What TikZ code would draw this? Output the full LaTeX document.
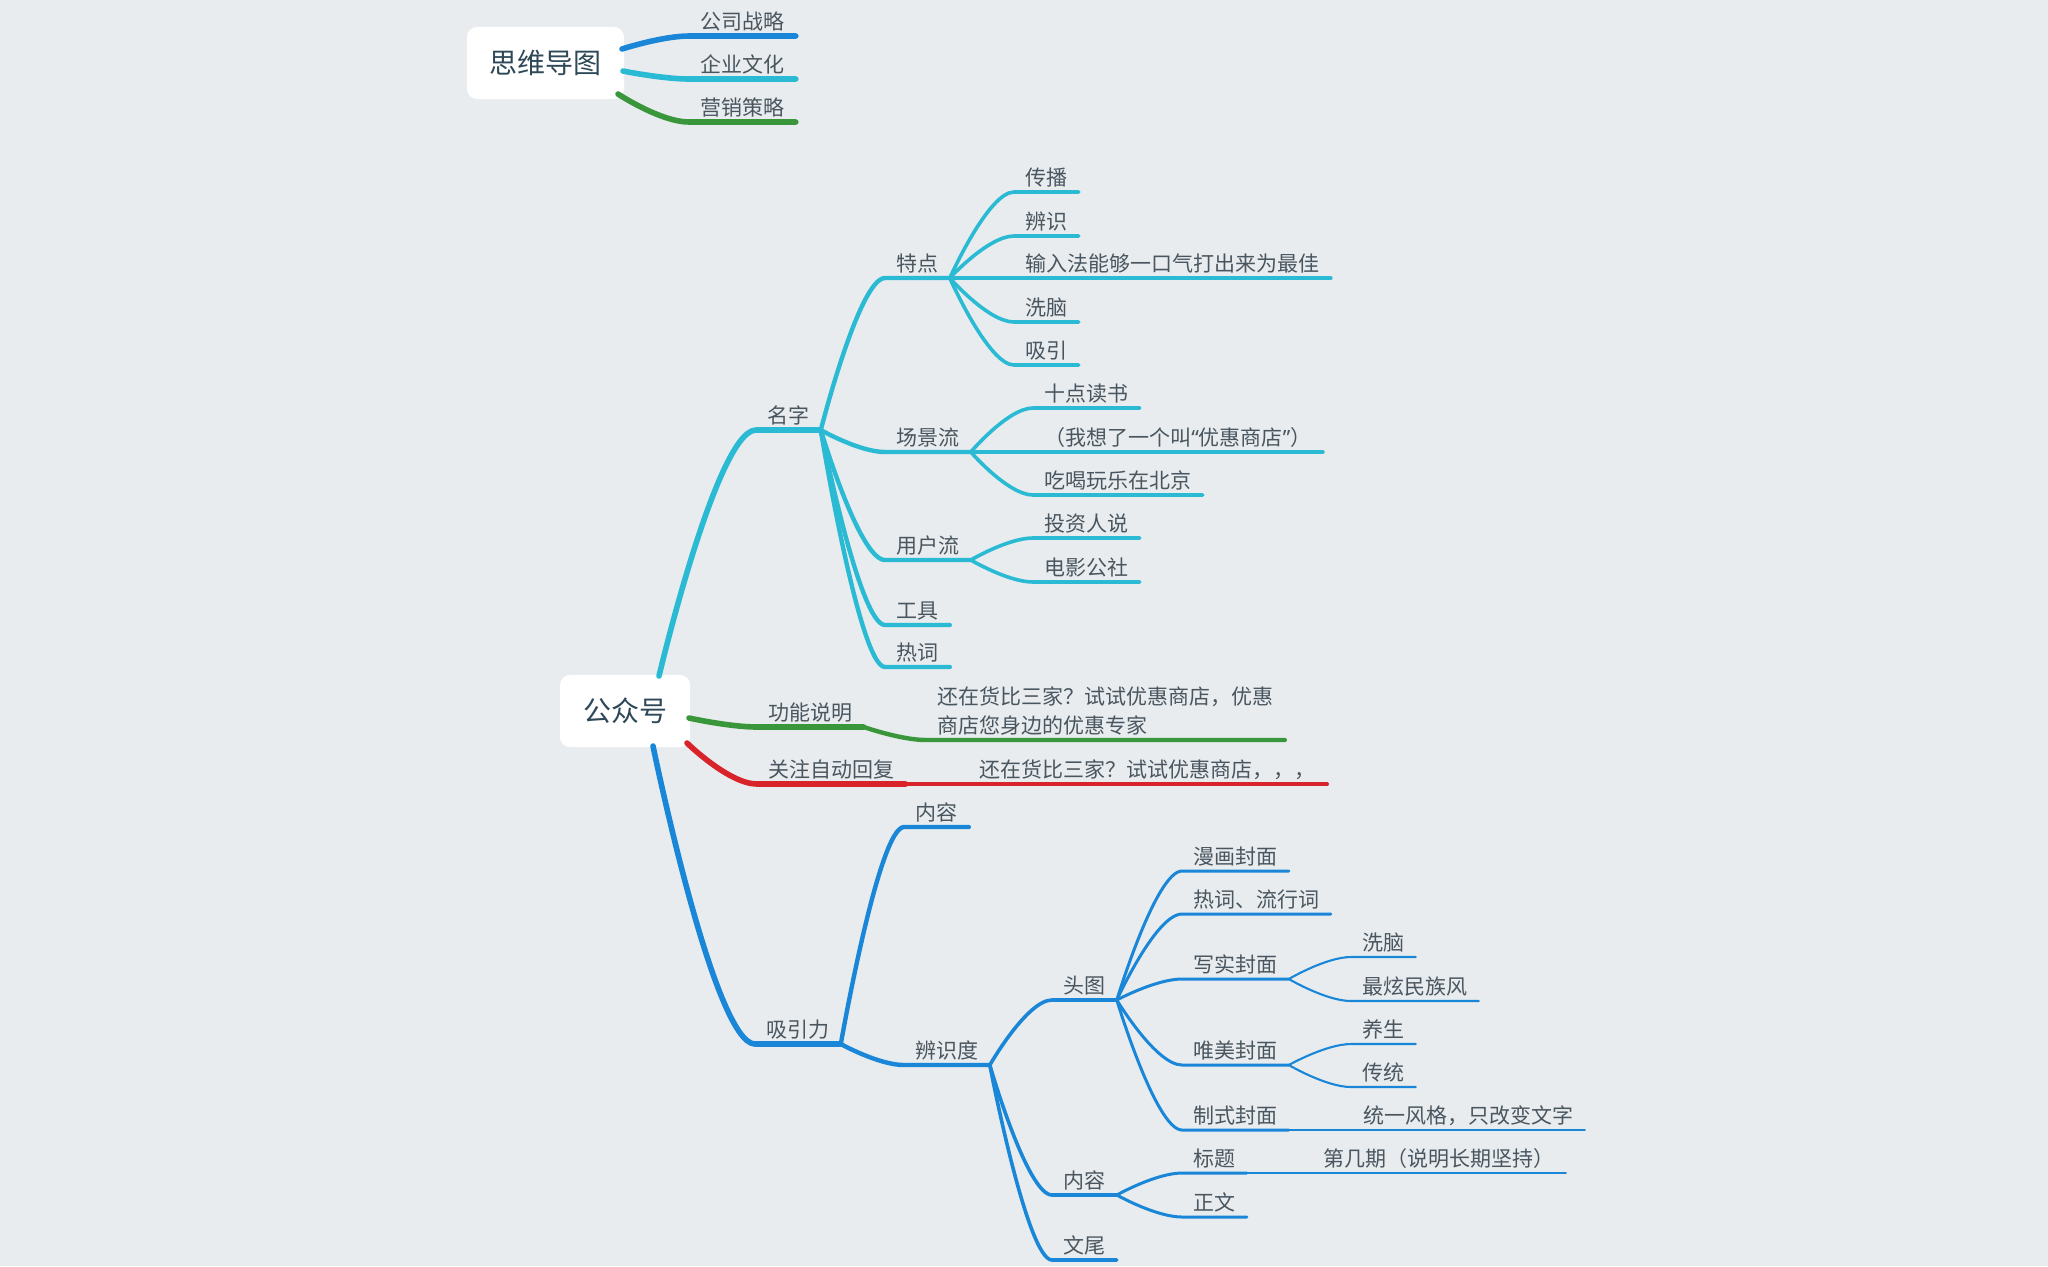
\documentclass[tikz,border=0pt]{standalone}
\usepackage{fontspec}
\setmainfont{Noto Sans CJK SC}
\newfontfamily\quotefont{Noto Sans}
\usetikzlibrary{calc}
\definecolor{bg}{HTML}{E8ECEF}
\definecolor{mmblue}{HTML}{1A86D8}
\definecolor{mmcyan}{HTML}{2BBAD3}
\definecolor{mmgreen}{HTML}{3A963A}
\definecolor{mmred}{HTML}{D9232A}
\definecolor{txt}{HTML}{4A565F}
\definecolor{roottxt}{HTML}{2E4858}
\newcommand\mmbranch[3]{\draw[#1] (#2.south east) .. controls (#2.south east) and ($(#3.south west)!0.4!(#2.south east|-#3.south west)$) .. (#3.south west) -- (#3.south east);}
\newcommand\mmstart[3]{\draw[#1] (#2) .. controls (#2) and ($(#3.south west)!0.4!(#2|-#3.south west)$) .. (#3.south west) -- (#3.south east);}
\tikzset{
  topic/.style={anchor=south west, inner xsep=5.5pt, inner ysep=3.25pt, text depth=0pt, text height=9pt, font=\fontsize{10.5}{14.5}\selectfont, text=txt},
  multitopic/.style={anchor=south west, inner xsep=5.5pt, inner ysep=2.2pt, align=left, font=\fontsize{10.5}{14.5}\selectfont, text=txt},
  rootbox/.style={fill=white, rounded corners=5pt, inner sep=0pt, minimum height=36pt, font=\fontsize{14}{16}\selectfont, text=roottxt},
  lv1/.style={line width=2.8pt},
  lv2/.style={line width=2.2pt},
  lv3/.style={line width=1.8pt},
  lv4/.style={line width=1.5pt},
  lv5/.style={line width=1.05pt}
}
\begin{document}
\begin{tikzpicture}[x=0.5pt, y=-0.5pt, line cap=round, line join=round]
\useasboundingbox (0,0) rectangle (2048,1266);
\fill[bg] (0,0) rectangle (2048,1266);

% ---------- root 1 ----------
\node[rootbox, minimum width=78.5pt] (r1) at (545.5,63) {思维导图};
\coordinate (r1a) at (622,49);
\coordinate (r1b) at (623,71);
\coordinate (r1c) at (618,94);
\node[topic] (a1) at (689,36) {公司战略};
\node[topic] (a2) at (689,79) {企业文化};
\node[topic] (a3) at (689,122) {营销策略};
\mmstart{mmblue,lv1}{r1a}{a1}
\mmstart{mmcyan,lv1}{r1b}{a2}
\mmstart{mmgreen,lv1}{r1c}{a3}

% ---------- root 2 ----------
\node[rootbox, minimum width=65pt] (r2) at (625,711) {公众号};
\coordinate (r2n) at (659,676);
\coordinate (r2g) at (689,718);
\coordinate (r2r) at (687,743);
\coordinate (r2b) at (653,746);

% 名字
\node[topic] (n) at (756,430) {名字};
\node[topic] (n1) at (885,278) {特点};
\node[topic] (n11) at (1014,192) {传播};
\node[topic] (n12) at (1014,236) {辨识};
\node[topic] (n13) at (1014,278) {输入法能够一口气打出来为最佳};
\node[topic] (n14) at (1014,322) {洗脑};
\node[topic] (n15) at (1014,365) {吸引};
\node[topic] (n2) at (885,452) {场景流};
\node[topic] (n21) at (1033,408) {十点读书};
\node[topic] (n22) at (1033,452) {（我想了一个叫{\quotefont “}优惠商店{\quotefont ”}）};
\node[topic] (n23) at (1033,495) {吃喝玩乐在北京};
\node[topic] (n3) at (885,560) {用户流};
\node[topic] (n31) at (1033,538) {投资人说};
\node[topic] (n32) at (1033,582) {电影公社};
\node[topic] (n4) at (885,625) {工具};
\node[topic] (n5) at (885,667) {热词};

\mmstart{mmcyan,lv1}{r2n}{n}
\mmbranch{mmcyan,lv2}{n}{n1}
\mmbranch{mmcyan,lv2}{n}{n2}
\mmbranch{mmcyan,lv2}{n}{n3}
\mmbranch{mmcyan,lv2}{n}{n4}
\mmbranch{mmcyan,lv2}{n}{n5}
\mmbranch{mmcyan,lv3}{n1}{n11}
\mmbranch{mmcyan,lv3}{n1}{n12}
\mmbranch{mmcyan,lv3}{n1}{n13}
\mmbranch{mmcyan,lv3}{n1}{n14}
\mmbranch{mmcyan,lv3}{n1}{n15}
\mmbranch{mmcyan,lv3}{n2}{n21}
\mmbranch{mmcyan,lv3}{n2}{n22}
\mmbranch{mmcyan,lv3}{n2}{n23}
\mmbranch{mmcyan,lv3}{n3}{n31}
\mmbranch{mmcyan,lv3}{n3}{n32}

% 功能说明
\node[topic] (g) at (757,727) {功能说明};
\node[multitopic] (g1) at (926,740) {还在货比三家？试试优惠商店，优惠\\商店您身边的优惠专家};
\mmstart{mmgreen,lv1}{r2g}{g}
\mmbranch{mmgreen,lv2}{g}{g1}

% 关注自动回复
\node[topic] (r) at (757,784) {关注自动回复};
\node[topic] (r1x) at (968,784) {还在货比三家？试试优惠商店，，，};
\mmstart{mmred,lv1}{r2r}{r}
\mmbranch{mmred,lv2}{r}{r1x}

% 吸引力
\node[topic] (b) at (755,1044) {吸引力};
\node[topic] (b1) at (904,827) {内容};
\node[topic] (b2) at (904,1065) {辨识度};
\node[topic] (b21) at (1052,1000) {头图};
\node[topic] (b211) at (1182,871) {漫画封面};
\node[topic] (b212) at (1182,914) {热词、流行词};
\node[topic] (b213) at (1182,979) {写实封面};
\node[topic] (b2131) at (1351,957) {洗脑};
\node[topic] (b2132) at (1351,1001) {最炫民族风};
\node[topic] (b214) at (1182,1065) {唯美封面};
\node[topic] (b2141) at (1351,1044) {养生};
\node[topic] (b2142) at (1351,1087) {传统};
\node[topic] (b215) at (1182,1130) {制式封面};
\node[topic] (b2151) at (1352,1130) {统一风格，只改变文字};
\node[topic] (b22) at (1052,1195) {内容};
\node[topic] (b221) at (1182,1173) {标题};
\node[topic] (b2211) at (1312,1173) {第几期（说明长期坚持）};
\node[topic] (b222) at (1182,1217) {正文};
\node[topic] (b23) at (1052,1260) {文尾};

\mmstart{mmblue,lv1}{r2b}{b}
\mmbranch{mmblue,lv2}{b}{b1}
\mmbranch{mmblue,lv2}{b}{b2}
\mmbranch{mmblue,lv3}{b2}{b21}
\mmbranch{mmblue,lv3}{b2}{b22}
\mmbranch{mmblue,lv3}{b2}{b23}
\mmbranch{mmblue,lv4}{b21}{b211}
\mmbranch{mmblue,lv4}{b21}{b212}
\mmbranch{mmblue,lv4}{b21}{b213}
\mmbranch{mmblue,lv4}{b21}{b214}
\mmbranch{mmblue,lv4}{b21}{b215}
\mmbranch{mmblue,lv5}{b213}{b2131}
\mmbranch{mmblue,lv5}{b213}{b2132}
\mmbranch{mmblue,lv5}{b214}{b2141}
\mmbranch{mmblue,lv5}{b214}{b2142}
\mmbranch{mmblue,lv5}{b215}{b2151}
\mmbranch{mmblue,lv4}{b22}{b221}
\mmbranch{mmblue,lv4}{b22}{b222}
\mmbranch{mmblue,lv5}{b221}{b2211}
\end{tikzpicture}
\end{document}
